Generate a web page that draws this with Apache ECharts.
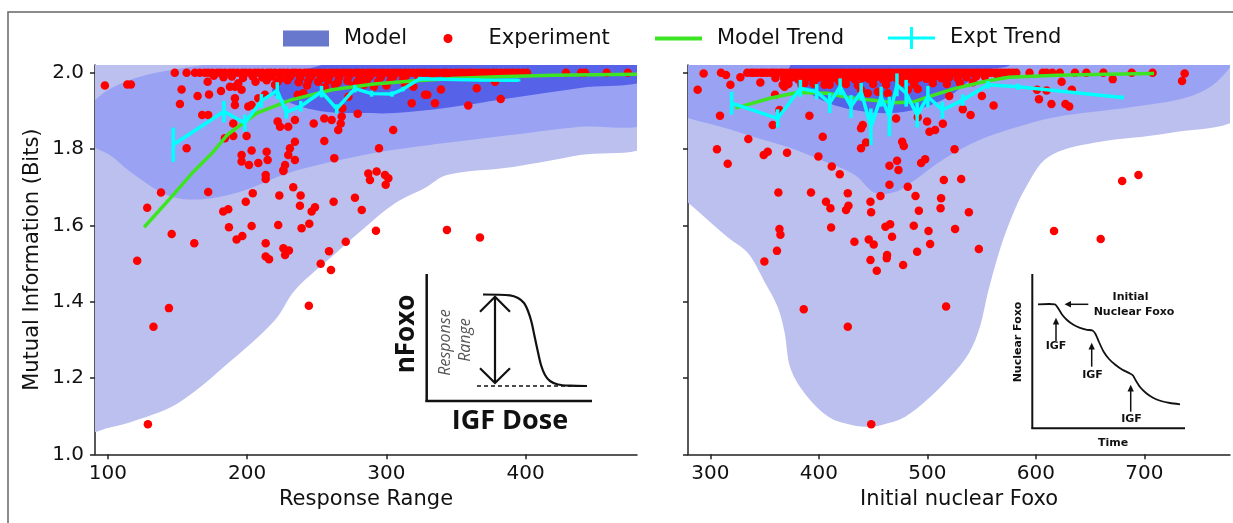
<!DOCTYPE html>
<html><head><meta charset="utf-8">
<script src="https://cdn.jsdelivr.net/npm/echarts@6/dist/echarts.min.js"></script>
<style>html,body{margin:0;padding:0;background:#fff}#c{width:1233px;height:523px}</style>
</head><body><div id="c"></div>
<script>
// ---------- tick labels ----------
const yTicks = [1.0, 1.2, 1.4, 1.6, 1.8, 2.0];
const xTicksLeft = [100, 200, 300, 400];
const xTicksRight = [300, 400, 500, 600, 700];

// ---------- Model density regions (data coordinates; edges run past the axes and are clipped) ----------
const modelOuterLeft = [[85,2.05],[490,2.05],[490,1.818],[439,1.784],[391,1.753],[343.5,1.732],[327.7,1.698],[306.2,1.658],[282.5,1.588],[258,1.509],[234.3,1.43],[220,1.352],[189,1.247],[150.3,1.134],[120.8,1.09],[100,1.069],[85,1.063]];
const modelMidLeft = [[85,1.915],[90.7,1.928],[97.8,1.949],[108.6,1.970],[123,1.989],[141,2.004],[158.9,2.015],[174.7,2.025],[190,2.05],[490,2.05],[490,1.874],[439.1,1.858],[390.9,1.837],[343.5,1.816],[295.4,1.792],[266.7,1.771],[236.5,1.745],[222.1,1.727],[198.4,1.692],[174.7,1.671],[153.2,1.669],[138.8,1.685],[114.4,1.745],[101.4,1.784],[90.7,1.803],[85,1.815]];
const modelInnerLeft = [[217.8,1.949],[223.6,1.981],[234.3,2.002],[248.7,2.015],[262,2.03],[280,2.05],[490,2.05],[490,1.983],[439.1,1.960],[390.9,1.934],[343.5,1.908],[306.2,1.894],[282.5,1.894],[258,1.897],[239.4,1.910],[225,1.931]];
const modelOuterRight = [[270,2.05],[790,2.05],[790,1.888],[723.2,1.842],[653.6,1.816],[611.6,1.779],[590.9,1.70],[576.7,1.614],[566,1.528],[555.8,1.423],[548.5,1.334],[538.3,1.265],[520.8,1.202],[499.5,1.142],[479.3,1.098],[458.1,1.077],[447,1.072],[430.4,1.077],[409.1,1.098],[387.9,1.156],[374,1.224],[368.3,1.321],[362.1,1.386],[349.8,1.453],[334.4,1.528],[316,1.569],[294.5,1.622],[279.4,1.659],[270,1.68]];
const modelMidRight = [[270,2.05],[782,2.05],[768.6,1.981],[740.3,1.936],[688.4,1.910],[618.6,1.884],[583.5,1.858],[548.5,1.824],[514,1.771],[488.6,1.719],[470,1.687],[451.6,1.685],[433.2,1.732],[401.8,1.771],[371.3,1.805],[340.9,1.831],[309.5,1.858],[279.4,1.881],[270,1.895]];
const modelInnerRight = [[371.3,1.999],[374,2.02],[378,2.05],[572,2.05],[576.1,2.02],[555.8,2.007],[540.1,1.981],[518.9,1.936],[494,1.907],[463.6,1.894],[432.8,1.902],[408.2,1.921],[386.7,1.955]];

// ---------- Experiment points ----------
const experimentLeft = [
[148,2.0],[156.5,2.0],[162.5,2.0],[166,2.0],[169.5,2.0],[172,2.0],[175,2.0],[178.5,2.0],[181,2.0],[184,2.0],[187.5,2.0],[190,2.0],[193,2.0],[196.5,2.0],[199,2.0],[202,2.0],[205.5,2.0],[208,2.0],[211,2.0],[214.5,2.0],[217,2.0],[220,2.0],[223.5,2.0],[226,2.0],[229,2.0],[232.5,2.0],[235,2.0],[238,2.0],[241.5,2.0],[244,2.0],[247,2.0],[250.5,2.0],[253,2.0],[256,2.0],[259.5,2.0],[262,2.0],[265,2.0],[268.5,2.0],[271,2.0],[274,2.0],[277.5,2.0],[280,2.0],[283,2.0],[286.5,2.0],[289,2.0],[292,2.0],[295.5,2.0],[298,2.0],[301,2.0],[304.5,2.0],[307,2.0],[310,2.0],[313.5,2.0],[316,2.0],[319,2.0],[322.5,2.0],[325,2.0],[328,2.0],[331.5,2.0],[334,2.0],[337,2.0],[340.5,2.0],[343,2.0],[346,2.0],[349.5,2.0],[352,2.0],[355,2.0],[358.5,2.0],[361,2.0],[364,2.0],[367.5,2.0],[370,2.0],[373,2.0],[376.5,2.0],[379,2.0],[382,2.0],[385.5,2.0],[388,2.0],[391,2.0],[394.5,2.0],[398,2.0],[401,2.0],[429,2.0],[439.8,2.0],[442.7,2.0],[458.2,2.0],[473.4,2.0],
[176,1.992],[183,1.988],[189,1.99],[197,1.986],[204,1.99],[211,1.987],[218,1.99],[224,1.985],[231,1.99],[238,1.986],[246,1.99],[253,1.985],[259,1.99],[266,1.987],[273,1.99],[281,1.986],[288,1.99],[296,1.988],[305,1.99],[314,1.992],[323,1.99],[333,1.992],[344,1.993],[356,1.994],
[206,1.976],[214,1.98],[222,1.977],[229,1.98],[237,1.975],[244,1.979],[251,1.976],[258,1.98],[265,1.975],[272,1.979],[279,1.976],[286,1.98],[294,1.977],[303,1.98],[312,1.982],
[243,1.966],[256,1.962],[263,1.968],[276,1.965],[284,1.968],[291,1.963],[300,1.966],
[97.8,1.966],[113.9,1.969],[116.5,1.969],
[152.9,1.956],[151.7,1.918],[164.4,1.939],[172.6,1.943],[171.6,1.976],[181.2,1.952],[187.6,1.963],[191.2,1.963],[193.6,1.972],[196,1.955],[191.2,1.933],[191.2,1.915],[167.7,1.889],[172,1.889],[190,1.867],[184,1.828],[190,1.834],[199.6,1.834],[156.5,1.802],[200.8,1.911],[203.2,1.915],[208,1.933],[212.8,1.942],[220,1.968],[221.9,1.872],[223.6,1.858],[229.5,1.858],[234.3,1.876],[234.3,1.819],[230.7,1.802],[229.5,1.784],[234.3,1.771],[227.2,1.758],[226,1.745],[196,1.784],[203.2,1.796],[196,1.767],[201.3,1.758],[208,1.763],[214,1.793],[214.7,1.771],[213.3,1.732],[236.3,1.942],[240.3,1.946],[247.8,1.867],[255.4,1.880],[260.7,1.876],[267.9,1.885],[267.2,1.867],[265.4,1.850],[255.4,1.821],[262.6,1.776],[268.4,1.907],[272.7,1.937],[279.4,1.892],[294.7,1.802],[304.9,1.850],
[287,1.736],[293,1.741],[299,1.732],[301.4,1.723],[299.5,1.706],[288.2,1.719],
[318.2,1.920],[327.7,1.942],[329.4,1.942],[334.9,1.920],[339.2,1.956],[358.8,1.914],[364.9,1.959],[382.1,1.931],[313.4,1.968],[319.4,1.963],[378,1.976],
[138.1,1.686],[128.2,1.646],[145.8,1.577],[121,1.507],[162,1.553],[143.8,1.383],[132.7,1.334],[128.7,1.079],[172,1.687],[213.3,1.721],[226,1.742],[204,1.684],[199,1.662],[182.8,1.636],[186.4,1.642],[186.9,1.595],[203.2,1.598],[192.4,1.563],[196.5,1.572],[213.3,1.553],[213.3,1.518],[215.7,1.511],[226,1.540],[230,1.534],[227.2,1.522],[222.3,1.601],[223.1,1.678],[233.1,1.700],[238.4,1.678],[237.9,1.651],[246.3,1.636],[248.7,1.647],[239.1,1.592],[244.6,1.604],[262.1,1.662],[277.4,1.672],[282.3,1.640],[270.8,1.557],[258.8,1.532],[252.8,1.499],[260.2,1.483],[292.5,1.586],[244.3,1.389],[343.5,1.588],[367.2,1.568]
];
const experimentRight = [
[334,2.0],[337.5,2.0],[340,2.0],[343,2.0],[346.5,2.0],[349,2.0],[352,2.0],[355.5,2.0],[358,2.0],[361,2.0],[364.5,2.0],[367,2.0],[370,2.0],[373.5,2.0],[376,2.0],[379,2.0],[382.5,2.0],[385,2.0],[388,2.0],[391.5,2.0],[394,2.0],[397,2.0],[400.5,2.0],[403,2.0],[406,2.0],[409.5,2.0],[412,2.0],[415,2.0],[418.5,2.0],[421,2.0],[424,2.0],[427.5,2.0],[430,2.0],[433,2.0],[436.5,2.0],[439,2.0],[442,2.0],[445.5,2.0],[448,2.0],[451,2.0],[454.5,2.0],[457,2.0],[460,2.0],[463.5,2.0],[466,2.0],[469,2.0],[472.5,2.0],[475,2.0],[478,2.0],[481.5,2.0],[484,2.0],[487,2.0],[490.5,2.0],[493,2.0],[496,2.0],[499.5,2.0],[502,2.0],[505,2.0],[508.5,2.0],[511,2.0],[514,2.0],[517.5,2.0],[520,2.0],[523,2.0],[526.5,2.0],[529,2.0],[532,2.0],[535.5,2.0],[538,2.0],[541,2.0],[544.5,2.0],[547,2.0],[550,2.0],[553.5,2.0],[556,2.0],[559,2.0],[562.5,2.0],[565,2.0],[568,2.0],[571.5,2.0],[575,2.0],[578.5,2.0],[582,2.0],[594.2,2.0],[606.4,2.0],[609.9,2.0],[615.2,2.0],[622.1,2.0],[636.1,2.0],[646.6,2.0],[662.3,2.0],[688.4,2.0],[707.6,2.0],
[360,1.986],[368,1.984],[375,1.987],[381,1.983],[388,1.986],[394,1.984],[401,1.987],[407,1.983],[414,1.986],[420,1.984],[427,1.987],[433,1.983],[440,1.986],[446,1.984],[452,1.987],[459,1.983],[465,1.986],[472,1.984],[478,1.987],[485,1.983],[492,1.986],[499,1.984],[506,1.987],[513,1.985],[520,1.987],[528,1.985],[536,1.988],[545,1.99],[553,1.99],[565,1.992],
[372,1.97],[384,1.968],[395,1.971],[410,1.968],[425,1.97],[436,1.967],[450,1.97],[462,1.968],[475,1.971],[488,1.969],[505,1.972],[518,1.97],[530,1.973],[542,1.975],
[293.8,1.998],[309.8,2.0],[314.4,1.994],[327.7,1.988],[318.5,1.968],[288.3,1.955],[346.1,1.974],[359.6,1.942],[366.7,1.968],[368.3,1.963],[363.7,1.902],[357.5,1.863],[308.9,1.887],[335,1.826],[306.1,1.799],[316,1.761],[349.2,1.784],[352.9,1.793],[370.7,1.790],[391.3,1.887],[403.6,1.832],[399.6,1.780],[411.9,1.754],[419.3,1.734],[438.9,1.854],[440.5,1.863],[438.9,1.802],[443.5,1.817],[465.1,1.756],[472.1,1.769],[473.4,1.745],[465.1,1.706],[482,1.701],[476.8,1.819],[478.3,1.808],[471.2,1.880],[491.2,1.883],[494.3,1.763],[498,1.773],[499.8,1.872],[502,1.845],[507.2,1.850],[514.3,1.866],[525.1,1.799],[515.2,1.719],[531.2,1.721],[532.7,1.904],[539.9,1.889],[520.2,1.939],[550.3,1.939],[561.1,1.914],[438.9,1.955],[445.1,1.946],[454.3,1.95],[463.5,1.946],[482,1.955],[491.2,1.957],[386.7,1.972],[397.4,1.985],[405.2,1.968],[419,1.976],
[362.7,1.686],[392.8,1.686],[426.7,1.684],[406.6,1.662],[410.7,1.645],[425.1,1.640],[427.3,1.651],[447.6,1.662],[448.2,1.634],[456.8,1.677],[489.1,1.677],[492.2,1.638],[512.7,1.671],[512.2,1.645],[538.3,1.634],[363.7,1.590],[364.6,1.575],[411.3,1.594],[361.4,1.533],[349.8,1.505],[432.8,1.557],[446,1.563],[450.6,1.550],[461.4,1.596],[465.7,1.603],[467.5,1.570],[487.5,1.599],[501.1,1.585],[502.6,1.551],[490.6,1.531],[462.9,1.522],[462.6,1.514],[447.6,1.509],[453.4,1.481],[477.7,1.496],[525.6,1.590],[547.5,1.538],[386.1,1.380],[517.3,1.387],[426.7,1.334],[448.3,1.079],
[679.6,1.716],[694.6,1.732],[616.8,1.585],[659.8,1.564],[737.2,1.998],[734.8,1.978],[670.9,1.983],[602.9,1.930],[614.4,1.918],[627.3,1.918],[630.8,1.911],[601.1,1.955],[609.9,1.953],[623.8,1.976],[633.2,1.955]
];

// ---------- Trends ----------
const modelTrendLeft = [[126,1.595],[145,1.672],[160,1.735],[175,1.79],[186,1.838],[207,1.894],[231,1.928],[261,1.955],[291,1.970],[321,1.979],[351,1.985],[380,1.989],[420,1.993],[480,1.996]];
const modelTrendRight = [[323,1.907],[355,1.933],[380,1.948],[408,1.946],[427,1.935],[448,1.928],[470,1.921],[488,1.924],[500,1.936],[525,1.958],[555,1.978],[575,1.988],[620,1.993],[665,1.996],[709,1.998]];
// [x, mean, half error bar]
const exptTrendLeft = [[146.9,1.811,0.045],[183.3,1.898,0.028],[198.3,1.868,0.022],[210.2,1.926,0.018],[221.6,1.953,0.022],[228.1,1.896,0.016],[238.5,1.912,0.014],[253.4,1.95,0.015],[264.3,1.905,0.012],[277.3,1.958,0.01],[289.4,1.945,0.008],[304,1.944,0.007],[312,1.957,0.006],[324,1.984,0.005],[367,1.981,0.004],[395,1.980,0.003]];
const exptTrendRight = [[319.6,1.92,0.03],[362,1.88,0.024],[383,1.959,0.022],[398,1.95,0.02],[410,1.92,0.026],[419.6,1.963,0.022],[429.7,1.911,0.03],[439,1.95,0.023],[448,1.858,0.048],[457.4,1.937,0.026],[465,1.885,0.052],[472,1.968,0.03],[480.5,1.946,0.035],[490.6,1.889,0.033],[500.5,1.937,0.028],[514,1.902,0.022],[532.7,1.928,0.015],[555.8,1.968,0.01],[583.5,1.963,0.008],[679.6,1.935,0.005]];

// ---------- styling ----------
const FONT = 'DejaVu Sans';
const C_LIGHT = '#bcc0ee', C_MID = '#9aa2f4', C_DARK = '#5663e8', C_LEG = '#6878cc';
const C_RED = '#ff0000', C_GREEN = '#3de422', C_CYAN = '#00ffff';

function regionSeries(pts, color, idx) {
  return {
    type: 'custom', name: 'Model', xAxisIndex: idx, yAxisIndex: idx, clip: true, silent: true, z: 1,
    data: pts, encode: { x: 0, y: 1 }, itemStyle: { color: C_LEG },
    renderItem: function (params, api) {
      if (params.dataIndex !== 0) return null;
      return { type: 'polygon', shape: { points: pts.map(p => api.coord(p)), smooth: 0.35 }, style: { fill: color } };
    }
  };
}
function errSeries(data, idx) {
  return {
    type: 'custom', name: 'Expt Trend', xAxisIndex: idx, yAxisIndex: idx, silent: true, z: 5,
    data: data, encode: { x: 0, y: 1 }, itemStyle: { color: C_CYAN },
    renderItem: function (params, api) {
      const x = api.value(0), y = api.value(1), e = api.value(2);
      const a = api.coord([x, y - e]), b = api.coord([x, y + e]);
      return { type: 'line', shape: { x1: a[0], y1: a[1], x2: b[0], y2: b[1] }, style: { stroke: C_CYAN, lineWidth: 3.5 } };
    }
  };
}
const axLine = { show: true, onZero: false, lineStyle: { color: '#222', width: 1.5 } };
function xAxis(idx, min, max, ticks, name) {
  return {
    type: 'value', gridIndex: idx, min: min, max: max, splitLine: { show: false },
    axisLine: axLine,
    axisTick: { show: true, length: 5, customValues: ticks, lineStyle: { color: '#222', width: 1.5 } },
    axisLabel: { customValues: ticks, margin: 9, fontSize: 20, color: '#111', fontFamily: FONT },
    name: name, nameLocation: 'middle', nameGap: 35,
    nameTextStyle: { fontSize: 21, color: '#111', fontFamily: FONT }
  };
}
function yAxis(idx, showLabels) {
  return {
    type: 'value', gridIndex: idx, min: 1.0, max: 2.02, splitLine: { show: false },
    axisLine: axLine,
    axisTick: { show: true, length: 5, customValues: yTicks, lineStyle: { color: '#222', width: 1.5 } },
    axisLabel: { show: showLabels, customValues: yTicks, margin: 11, fontSize: 20, color: '#111', fontFamily: FONT,
      formatter: v => v.toFixed(1) },
    name: showLabels ? 'Mutual Information (Bits)' : '', nameLocation: 'middle', nameGap: 52, nameRotate: 90,
    nameTextStyle: { fontSize: 21, color: '#111', fontFamily: FONT }
  };
}
function legendBox(item, left, top, w, h, pad) {
  return {
    data: [item], left: left, top: top, itemWidth: w, itemHeight: h, padding: 0, selectedMode: false,
    symbolKeepAspect: false,
    textStyle: { fontSize: 21, color: '#111', fontFamily: FONT, padding: [0, 0, 0, pad] }
  };
}
const INK = '#111';
const insetText = (t, x, y, font, rot, fill) => ({ type: 'text', x: x, y: y, rotation: rot || 0, silent: true,
  style: { text: t, font: font, fill: fill || INK, align: 'center', verticalAlign: 'middle' } });
const seg = (x1, y1, x2, y2, w, extra) => ({ type: 'line', silent: true, shape: { x1, y1, x2, y2 },
  style: Object.assign({ stroke: INK, lineWidth: w }, extra || {}) });
const pline = (pts, w, smooth) => ({ type: 'polyline', silent: true, shape: { points: pts, smooth: smooth || 0 },
  style: { stroke: INK, lineWidth: w, fill: 'none' } });
const tri = (pts) => ({ type: 'polygon', silent: true, shape: { points: pts }, style: { fill: INK } });
const SMALL = 'bold 11px "DejaVu Sans"';

const graphics = [
  { type: 'rect', silent: true, shape: { x: 8, y: 12, width: 1400, height: 700 }, style: { fill: 'none', stroke: '#666', lineWidth: 1.5 } },
  // left inset: sigmoid schematic
  seg(426.7, 274, 426.7, 402, 2.5), seg(425.5, 401, 592, 401, 2.5),
  pline([[483,294.5],[510,295.3],[518,298],[524,303],[528,311],[531.5,322],[534.5,336],[537.5,350],[541,365],[545,375],[550,381],[558,384.5],[570,385.7],[587,386]], 2.2, 0.3),
  seg(477, 386, 585, 386, 1.5, { lineDash: [4, 3] }),
  seg(495, 297, 495, 382, 2.2),
  pline([[480,311.7],[495,296.7],[510,311.7]], 2.2), pline([[480,368.3],[495,383],[510,368.3]], 2.2),
  insetText('nFoxo', 406.5, 334, 'bold 26px "Open Sans"', Math.PI / 2),
  insetText('Response', 445, 342.5, 'italic 16px "Open Sans"', Math.PI / 2, '#555'),
  insetText('Range', 465.5, 340, 'italic 16px "Open Sans"', Math.PI / 2, '#555'),
  insetText('IGF Dose', 510, 421, 'bold 27px "Open Sans"'),
  // right inset: nuclear Foxo time course
  seg(1032.3, 274, 1032.3, 429, 2), seg(1031.5, 428.3, 1185, 428.3, 2),
  pline([[1038,304.3],[1055,304.3],[1058,308],[1062,314.5],[1067,320],[1073,324.5],[1080,327.8],[1087,329.8],[1092.5,330.5],[1095.5,334],[1099,342],[1103.5,351.5],[1109,359],[1115,364.5],[1122,369.5],[1130,373.5],[1133,375.5],[1135.5,380],[1140,387],[1146,393],[1153,397.8],[1161,401],[1170,403],[1180,404.3]], 1.8, 0.2),
  seg(1070, 304.3, 1088.3, 304.3, 1.5), tri([[1064.5,304.3],[1071,301],[1071,307.6]]),
  seg(1056, 323, 1056, 341, 1.5), tri([[1056,317.8],[1052.8,324.5],[1059.2,324.5]]),
  seg(1091.7, 348, 1091.7, 366.7, 1.5), tri([[1091.7,342.8],[1088.5,349.5],[1094.9,349.5]]),
  seg(1130.7, 390, 1130.7, 411.7, 1.5), tri([[1130.7,384.8],[1127.5,391.5],[1133.9,391.5]]),
  insetText('Nuclear Foxo', 1018, 342, SMALL, Math.PI / 2),
  insetText('Time', 1113, 443, SMALL),
  insetText('Initial', 1130.5, 297.5, SMALL),
  insetText('Nuclear Foxo', 1134, 312, SMALL),
  insetText('IGF', 1056, 346.5, SMALL),
  insetText('IGF', 1092.5, 375, SMALL),
  insetText('IGF', 1131.5, 419, SMALL)
];

const chart = echarts.init(document.getElementById('c'), null, { renderer: 'canvas' });
chart.setOption({
  animation: false,
  backgroundColor: '#fff',
  grid: [
    { left: 95, top: 65, width: 542, height: 389.3 },
    { left: 688, top: 65, width: 542, height: 389.3 }
  ],
  xAxis: [xAxis(0, 90.7, 480, xTicksLeft, 'Response Range'), xAxis(1, 279.4, 779, xTicksRight, 'Initial nuclear Foxo')],
  yAxis: [yAxis(0, true), yAxis(1, false)],
  legend: [
    legendBox({ name: 'Model', icon: 'rect', itemStyle: { color: C_LEG, borderWidth: 0 } }, 283, 28, 46, 16, 10),
    legendBox({ name: 'Experiment', icon: 'circle', itemStyle: { color: C_RED, borderWidth: 0, opacity: 1 } }, 443.5, 28, 9, 9, 31),
    legendBox({ name: 'Model Trend', icon: 'path://M0,0H47V4H0Z', itemStyle: { color: C_GREEN, borderWidth: 0 } }, 655, 28, 47, 4, 10),
    legendBox({ name: 'Expt Trend', icon: 'path://M0,9.5H22V0H25V9.5H47V12.5H25V22H22V12.5H0Z', itemStyle: { color: C_CYAN, borderWidth: 0 } }, 888, 27, 47, 22, 10)
  ],
  graphic: graphics,
  series: [
    regionSeries(modelOuterLeft, C_LIGHT, 0), regionSeries(modelMidLeft, C_MID, 0), regionSeries(modelInnerLeft, C_DARK, 0),
    regionSeries(modelOuterRight, C_LIGHT, 1), regionSeries(modelMidRight, C_MID, 1), regionSeries(modelInnerRight, C_DARK, 1),
    { type: 'scatter', name: 'Experiment', xAxisIndex: 0, yAxisIndex: 0, data: experimentLeft, symbolSize: 8.5, itemStyle: { color: C_RED, opacity: 1 }, z: 2, silent: true },
    { type: 'scatter', name: 'Experiment', xAxisIndex: 1, yAxisIndex: 1, data: experimentRight, symbolSize: 8.5, itemStyle: { color: C_RED, opacity: 1 }, z: 2, silent: true },
    { type: 'line', name: 'Model Trend', xAxisIndex: 0, yAxisIndex: 0, data: modelTrendLeft, showSymbol: false, itemStyle: { color: C_GREEN }, lineStyle: { color: C_GREEN, width: 3.5 }, z: 3, silent: true },
    { type: 'line', name: 'Model Trend', xAxisIndex: 1, yAxisIndex: 1, data: modelTrendRight, showSymbol: false, itemStyle: { color: C_GREEN }, lineStyle: { color: C_GREEN, width: 3.5 }, z: 3, silent: true },
    { type: 'line', name: 'Expt Trend', xAxisIndex: 0, yAxisIndex: 0, data: exptTrendLeft.map(d => [d[0], d[1]]), showSymbol: false, itemStyle: { color: C_CYAN }, lineStyle: { color: C_CYAN, width: 3.5 }, z: 4, silent: true },
    { type: 'line', name: 'Expt Trend', xAxisIndex: 1, yAxisIndex: 1, data: exptTrendRight.map(d => [d[0], d[1]]), showSymbol: false, itemStyle: { color: C_CYAN }, lineStyle: { color: C_CYAN, width: 3.5 }, z: 4, silent: true },
    errSeries(exptTrendLeft, 0), errSeries(exptTrendRight, 1)
  ]
});
</script>
</body></html>
